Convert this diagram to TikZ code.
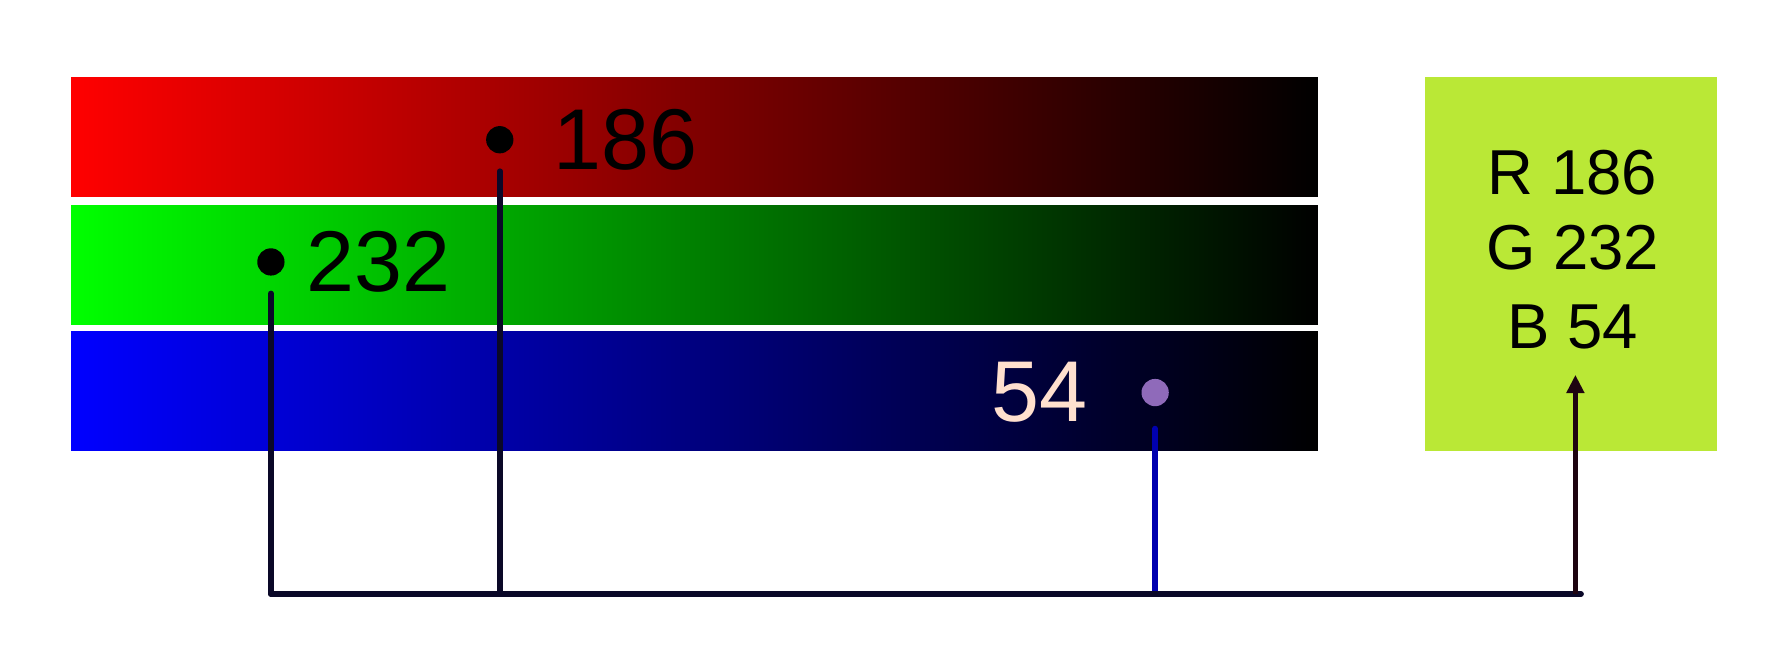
\documentclass[tikz,border=0pt]{standalone}
\usepackage{fontspec}
\setmainfont{Liberation Sans}
\usetikzlibrary{arrows.meta}
\definecolor{boxgreen}{RGB}{186,232,54}
\definecolor{busnavy}{RGB}{10,8,40}
\definecolor{bluewire}{RGB}{0,0,176}
\definecolor{arrowdark}{RGB}{30,4,16}
\definecolor{peach}{RGB}{255,224,206}
\definecolor{dotpurple}{RGB}{143,106,186}
\begin{document}
\begin{tikzpicture}[x=0.01cm,y=-0.01cm,
  bar/.style={rectangle,inner sep=0pt,minimum width=10.97cm,minimum height=1.05cm,right color=black},
  dot/.style={circle,inner sep=0pt,minimum size=0.24cm},
  barlabel/.style={inner sep=0pt,anchor=base west,font=\fontsize{21.6}{26}\selectfont},
  boxlabel/.style={inner sep=0pt,anchor=base,font=\fontsize{15.9}{19}\selectfont},
  wire/.style={line width=1.4pt,line cap=round,busnavy}]
\useasboundingbox (0,0) rectangle (1568,578);
% bars
\node[bar,left color={rgb,255:red,255;green,0;blue,0}] (rbar) at (611.5,120.5) {};
\node[bar,left color={rgb,255:red,0;green,255;blue,0}] (gbar) at (611.5,233.5) {};
\node[bar,left color={rgb,255:red,0;green,0;blue,255}] (bbar) at (611.5,344.5) {};
% result box
\node[rectangle,inner sep=0pt,fill=boxgreen,minimum width=2.57cm,minimum height=3.29cm] (box) at (1383.5,232.5) {};
\node[boxlabel] (lr) at (1384.5,171) {R 186};
\node[boxlabel] (lg) at (1384.5,237.6) {G 232};
\node[boxlabel] (lb) at (1384.5,306.8) {B 54};
% dots and labels
\node[dot,fill=black] (d186) at (440,123) {};
\node[dot,fill=black] (d232) at (238.5,230.6) {};
\node[dot,fill=dotpurple] (d54) at (1017,345.6) {};
\node[barlabel,text=black] (t186) at (487,149.6) {186};
\node[barlabel,text=black] (t232) at (269,257) {232};
\node[barlabel,text=peach] (t54) at (872,371) {54};
% bus coordinates
\coordinate (j232) at (238.5,523);
\coordinate (j186) at (439.5,523);
\coordinate (j54) at (1015.5,523);
\coordinate (jend) at (1392,523);
\coordinate (jarrow) at (1387,523);
\coordinate (tip) at (1387,330);
% connectors
\draw[wire,shorten <=0.15cm] (d232.south) -- (d232.south |- j232);
\draw[wire,shorten <=0.15cm] (d186.south) -- (d186.south |- j186);
\draw[wire,bluewire,shorten <=0.19cm] (d54.south) -- (d54.south |- j54);
\draw[wire] (j232) -- (jend);
\draw[line width=1.4pt,arrowdark,-{Triangle[length=0.16cm,width=0.15cm]}] (jarrow) -- (tip);
\end{tikzpicture}
\end{document}
